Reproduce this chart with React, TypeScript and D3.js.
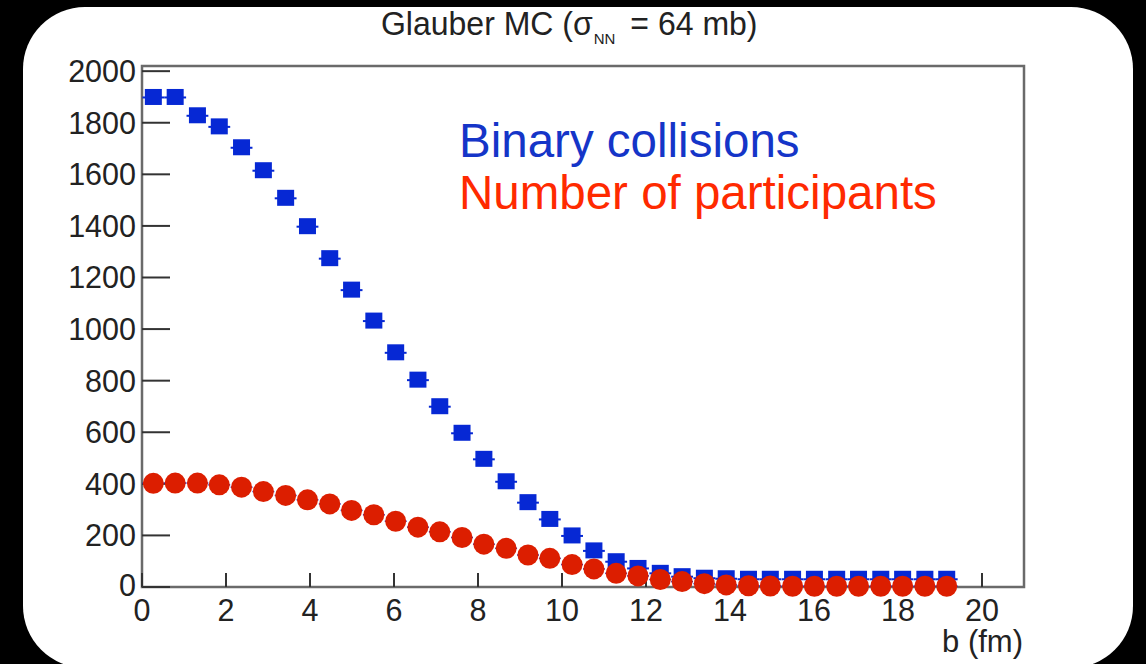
import React from 'react';
import * as d3 from 'd3';

// impact parameter bin centres (fm)
const bValues = [0.27, 0.79, 1.32, 1.84, 2.37, 2.89, 3.42, 3.94, 4.47, 4.99, 5.52, 6.04, 6.57, 7.09, 7.62, 8.14, 8.67, 9.19, 9.71, 10.24, 10.76, 11.29, 11.81, 12.34, 12.86, 13.39, 13.91, 14.44, 14.96, 15.49, 16.01, 16.54, 17.06, 17.59, 18.11, 18.64, 19.16];
const binaryCollisions = [1898, 1898, 1827, 1784, 1703, 1614, 1507, 1397, 1273, 1151, 1031, 908, 802, 699, 596, 495, 408, 327, 262, 198, 140, 98, 72, 53, 40, 34, 32, 30, 30, 30, 30, 30, 30, 30, 30, 30, 30];
const participants = [402, 403, 403, 396, 387, 370, 355, 338, 322, 297, 280, 255, 232, 214, 192, 166, 150, 124, 111, 87, 70, 53, 43, 29, 21, 13, 8, 5, 4, 3, 3, 3, 3, 3, 3, 3, 3];
const binHalfWidth = 0.26;
const xTicks = [0, 2, 4, 6, 8, 10, 12, 14, 16, 18, 20];
const yTicks = [0, 200, 400, 600, 800, 1000, 1200, 1400, 1600, 1800, 2000];
const xDomain = [0, 21];
const yDomain = [0, 2020];

const FONT = '"Liberation Sans", Arial, Helvetica, sans-serif';
const BLUE_MARK = '#0628d4';
const RED_MARK = '#dc1e00';
const BLUE_TEXT = '#1535c8';
const RED_TEXT = '#ff2a00';

export default function App() {
  const W = 1146, H = 664;
  const x = d3.scaleLinear().domain(xDomain).range([142, 1024]);
  const y = d3.scaleLinear().domain(yDomain).range([587, 66]);
  const [x0, x1] = x.range();
  const [y0, y1] = y.range();
  const sq = 17;

  return (
    <svg width={W} height={H} style={{ position: 'absolute', left: 0, top: 0, display: 'block' }}>
      <rect x={0} y={0} width={W} height={H} fill="#000" />
      <rect x={23} y={7} width={1110} height={661} rx={62} ry={62} fill="#fff" />

      {/* title */}
      <text x={381} y={35} fontFamily={FONT} fontSize={32} fill="#222" transform="translate(381,35) scale(1,1.03) translate(-381,-35)">
        Glauber MC (σ<tspan fontSize={15} dy={9} dx={1}>NN</tspan><tspan dy={-9} dx={15}>= 64 mb)</tspan>
      </text>

      {/* frame */}
      <rect x={x0} y={y1} width={x1 - x0} height={y0 - y1} fill="none" stroke="#6a6a6a" strokeWidth={2.5} />

      {/* y ticks */}
      {yTicks.map(t => (
        <g key={'y' + t}>
          <line x1={x0} x2={x0 + 28} y1={y(t)} y2={y(t)} stroke="#333" strokeWidth={2} />
          <text x={136} y={t === 0 ? y(t) - 2 : y(t)} dy="0.36em" textAnchor="end" fontFamily={FONT} fontSize={30.5} fill="#222">{t}</text>
        </g>
      ))}
      {/* x ticks */}
      {xTicks.map(t => (
        <g key={'x' + t}>
          <line x1={x(t)} x2={x(t)} y1={y0} y2={y0 - 14} stroke="#333" strokeWidth={2} />
          <text x={x(t)} y={621} textAnchor="middle" fontFamily={FONT} fontSize={30.5} fill="#222">{t}</text>
        </g>
      ))}
      <text x={1023} y={652} textAnchor="end" fontFamily={FONT} fontSize={31} fill="#222">b (fm)</text>

      {/* binary collisions */}
      {bValues.map((b, i) => (
        <g key={'bc' + i}>
          <line x1={x(b - binHalfWidth)} x2={x(b + binHalfWidth)} y1={y(binaryCollisions[i])} y2={y(binaryCollisions[i])} stroke={BLUE_MARK} strokeWidth={2} />
          <rect x={x(b) - sq / 2} y={y(binaryCollisions[i]) - sq / 2} width={sq} height={sq - 1} fill={BLUE_MARK} />
        </g>
      ))}
      {/* participants */}
      {bValues.map((b, i) => (
        <g key={'np' + i}>
          <line x1={x(b - binHalfWidth)} x2={x(b + binHalfWidth)} y1={y(participants[i])} y2={y(participants[i])} stroke={BLUE_MARK} strokeWidth={1.5} />
        </g>
      ))}
      {bValues.map((b, i) => (
        <circle key={'npc' + i} cx={x(b)} cy={y(participants[i])} r={10.5} fill={RED_MARK} />
      ))}

      {/* legend text */}
      <text x={459} y={157} fontFamily={FONT} fontSize={47.5} fill={BLUE_TEXT}>Binary collisions</text>
      <text x={459} y={209} fontFamily={FONT} fontSize={47.5} fill={RED_TEXT}>Number of participants</text>
    </svg>
  );
}
